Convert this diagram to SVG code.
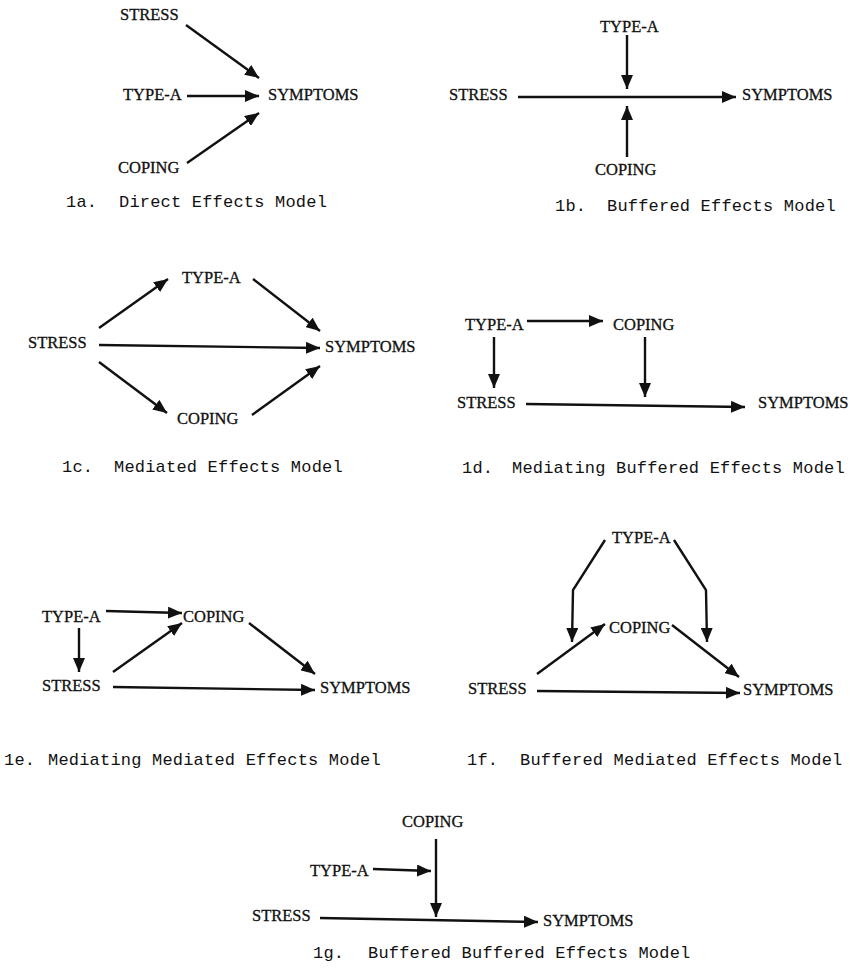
<svg xmlns="http://www.w3.org/2000/svg" width="854" height="977" viewBox="0 0 854 977">
<style>
.n{font-family:"Liberation Serif","Times New Roman",serif;font-size:16.5px;fill:#111;stroke:#111;stroke-width:0.3px}
.c{font-family:"Liberation Mono","Courier New",monospace;font-size:17px;letter-spacing:0.2px;fill:#111}
.e{stroke:#111;stroke-width:2.4;fill:none;marker-end:url(#ah)}
</style>
<defs>
<marker id="ah" markerUnits="userSpaceOnUse" markerWidth="15" markerHeight="12" refX="14" refY="6" orient="auto">
<path d="M0,0 L14,6 L0,12 z" fill="#111"/>
</marker>
</defs>
<rect width="854" height="977" fill="#fff"/>

<!-- 1a -->
<g id="a-stress"><text class="n" x="120" y="20">STRESS</text></g>
<g id="a-typea"><text class="n" x="123" y="100">TYPE-A</text></g>
<g id="a-coping"><text class="n" x="118" y="173">COPING</text></g>
<g id="a-symptoms"><text class="n" x="268" y="100">SYMPTOMS</text></g>
<g id="a-edges">
<line class="e" x1="186" y1="25" x2="259" y2="78"/>
<line class="e" x1="187" y1="96" x2="259" y2="96"/>
<line class="e" x1="187" y1="163" x2="259" y2="113"/>
</g>
<text class="c" x="66" y="207">1a.<tspan x="119">Direct Effects Model</tspan></text>

<!-- 1b -->
<g id="b-typea"><text class="n" x="600" y="32">TYPE-A</text></g>
<g id="b-stress"><text class="n" x="449" y="100">STRESS</text></g>
<g id="b-symptoms"><text class="n" x="742" y="100">SYMPTOMS</text></g>
<g id="b-coping"><text class="n" x="595" y="175">COPING</text></g>
<g id="b-edges">
<line class="e" x1="627" y1="35" x2="627" y2="89"/>
<line class="e" x1="518" y1="97" x2="736" y2="97"/>
<line class="e" x1="627" y1="157" x2="627" y2="106"/>
</g>
<text class="c" x="555" y="211">1b.<tspan x="607">Buffered Effects Model</tspan></text>

<!-- 1c -->
<g id="c-typea"><text class="n" x="182" y="283">TYPE-A</text></g>
<g id="c-stress"><text class="n" x="28" y="348">STRESS</text></g>
<g id="c-symptoms"><text class="n" x="325" y="352">SYMPTOMS</text></g>
<g id="c-coping"><text class="n" x="177" y="424">COPING</text></g>
<g id="c-edges">
<line class="e" x1="99" y1="328" x2="168" y2="279"/>
<line class="e" x1="253" y1="279" x2="320" y2="331"/>
<line class="e" x1="99" y1="345" x2="320" y2="348"/>
<line class="e" x1="99" y1="362" x2="167" y2="413"/>
<line class="e" x1="252" y1="415" x2="320" y2="366"/>
</g>
<text class="c" x="62" y="472">1c.<tspan x="114">Mediated Effects Model</tspan></text>

<!-- 1d -->
<g id="d-typea"><text class="n" x="465" y="330">TYPE-A</text></g>
<g id="d-coping"><text class="n" x="613" y="330">COPING</text></g>
<g id="d-stress"><text class="n" x="457" y="408">STRESS</text></g>
<g id="d-symptoms"><text class="n" x="758" y="408">SYMPTOMS</text></g>
<g id="d-edges">
<line class="e" x1="527" y1="321" x2="603" y2="321"/>
<line class="e" x1="494" y1="337" x2="494" y2="388"/>
<line class="e" x1="645" y1="337" x2="645" y2="397"/>
<line class="e" x1="526" y1="404" x2="745" y2="407"/>
</g>
<text class="c" x="462" y="473">1d.<tspan x="512">Mediating Buffered Effects Model</tspan></text>

<!-- 1e -->
<g id="e-typea"><text class="n" x="42" y="622">TYPE-A</text></g>
<g id="e-coping"><text class="n" x="183" y="622">COPING</text></g>
<g id="e-stress"><text class="n" x="42" y="691">STRESS</text></g>
<g id="e-symptoms"><text class="n" x="320" y="693">SYMPTOMS</text></g>
<g id="e-edges">
<line class="e" x1="106" y1="611" x2="182" y2="613"/>
<line class="e" x1="79" y1="628" x2="79" y2="672"/>
<line class="e" x1="113" y1="672" x2="182" y2="623"/>
<line class="e" x1="249" y1="623" x2="315" y2="674"/>
<line class="e" x1="113" y1="687" x2="315" y2="690"/>
</g>
<text class="c" x="4" y="765">1e.<tspan x="48">Mediating Mediated Effects Model</tspan></text>

<!-- 1f -->
<g id="f-typea"><text class="n" x="612" y="543">TYPE-A</text></g>
<g id="f-coping"><text class="n" x="609" y="633">COPING</text></g>
<g id="f-stress"><text class="n" x="468" y="694">STRESS</text></g>
<g id="f-symptoms"><text class="n" x="743" y="695">SYMPTOMS</text></g>
<g id="f-edges">
<polyline class="e" points="605,540 573,590 572,642"/>
<polyline class="e" points="674,540 706,590 707,642"/>
<line class="e" x1="537" y1="674" x2="605" y2="624"/>
<line class="e" x1="672" y1="625" x2="739" y2="677"/>
<line class="e" x1="537" y1="691" x2="740" y2="693"/>
</g>
<text class="c" x="467" y="765">1f.<tspan x="520">Buffered Mediated Effects Model</tspan></text>

<!-- 1g -->
<g id="g-coping"><text class="n" x="402" y="827">COPING</text></g>
<g id="g-typea"><text class="n" x="310" y="876">TYPE-A</text></g>
<g id="g-stress"><text class="n" x="252" y="921">STRESS</text></g>
<g id="g-symptoms"><text class="n" x="543" y="926">SYMPTOMS</text></g>
<g id="g-edges">
<line class="e" x1="436" y1="839" x2="436" y2="917"/>
<line class="e" x1="373" y1="869" x2="431" y2="871"/>
<line class="e" x1="320" y1="918" x2="538" y2="922"/>
</g>
<text class="c" x="313" y="958">1g.<tspan x="368">Buffered Buffered Effects Model</tspan></text>
</svg>
